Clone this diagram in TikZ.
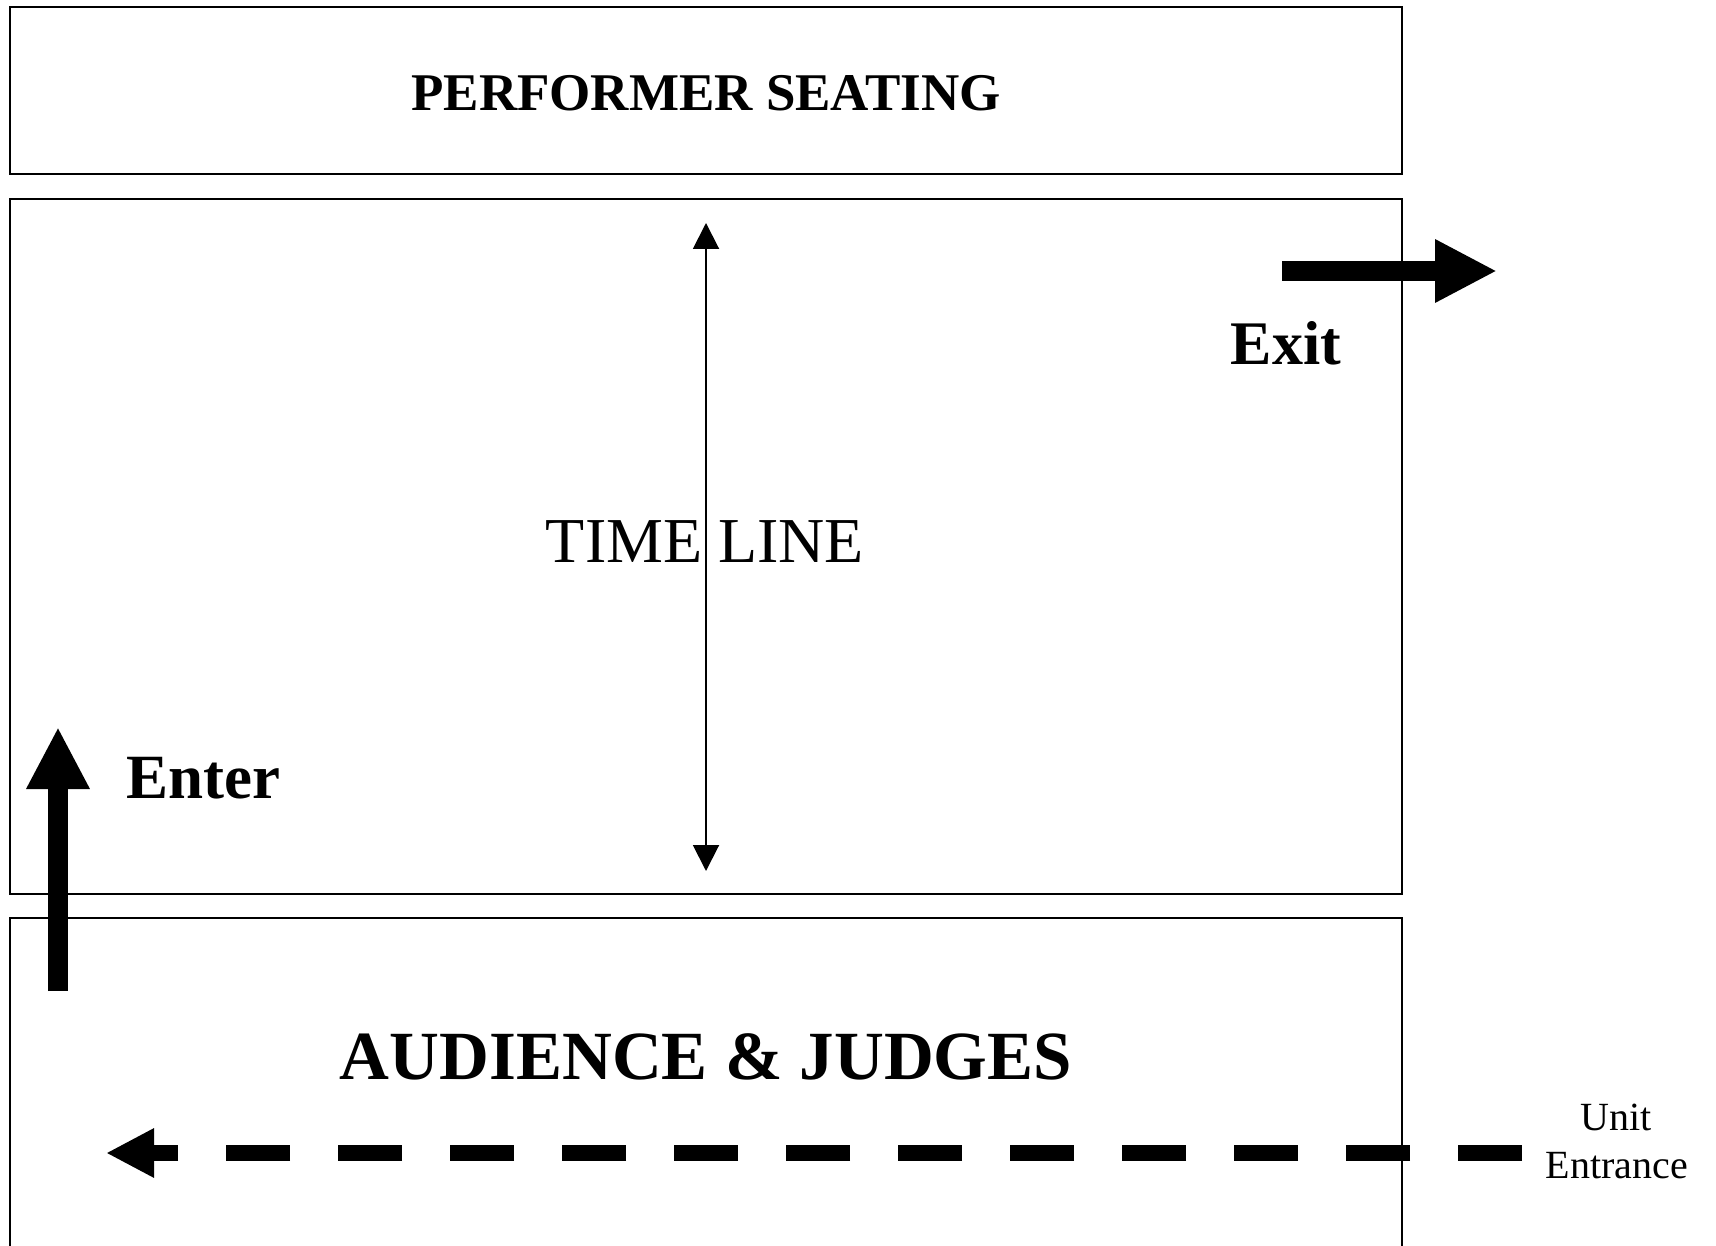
\documentclass[tikz,border=0pt]{standalone}
\usepackage{fontspec}
\setmainfont{Liberation Serif}
\usetikzlibrary{arrows.meta}
\begin{document}
\begin{tikzpicture}[x=1pt,y=-1pt,
  area/.style={draw,line width=2pt,inner sep=0pt,outer sep=0pt,anchor=north west},
  lbl/.style={anchor=base,inner sep=0pt},
  timearrow/.style={line width=2pt,{Triangle[length=26pt,width=26pt]}-{Triangle[length=26pt,width=26pt]}},
  bigarrow/.style={line width=20pt,-{Triangle[length=62pt,width=59pt]}},
  entryarrow/.style={line width=16pt,dash pattern=on 64pt off 48pt,-{Triangle[length=48pt,width=46pt]}}]
\useasboundingbox (0,0) rectangle (1716,1246);
\begin{scope}
\clip (0,0) rectangle (1716,1246);
\node[area,minimum width=1392pt,minimum height=167pt] (seat) at (10,7) {};
\node[area,minimum width=1392pt,minimum height=695pt] (stage) at (10,199) {};
\node[area,minimum width=1392pt,minimum height=400pt] (aud) at (10,918) {};
\end{scope}
\node[lbl,font=\fontsize{53}{60}\selectfont\bfseries] (seatlbl) at (706,111) {PERFORMER SEATING};
\node[lbl,font=\fontsize{64}{70}\selectfont] (timelbl) at (705,562) {TIME LINE};
\node[lbl,font=\fontsize{62}{70}\selectfont\bfseries] (exitlbl) at (1286,365) {Exit};
\node[lbl,font=\fontsize{63}{70}\selectfont\bfseries] (enterlbl) at (203,798) {Enter};
\node[lbl,font=\fontsize{69}{80}\selectfont\bfseries] (audlbl) at (706,1079) {AUDIENCE \& JUDGES};
\node[lbl,font=\fontsize{40}{48}\selectfont] (unitlbl) at (1616,1130) {Unit};
\node[lbl,font=\fontsize{40}{48}\selectfont] (entrlbl) at (1617,1178) {Entrance};
\coordinate (tlbot) at (706,871);
\coordinate (tltop) at (706,223);
\draw[timearrow] (tlbot) -- (tltop);
\coordinate (exA) at (1282,271);
\coordinate (exB) at (1497,271);
\draw[bigarrow] (exA) -- (exB);
\coordinate (enA) at (58,991);
\coordinate (enB) at (58,727);
\draw[bigarrow] (enA) -- (enB);
\coordinate (unA) at (1522,1153);
\coordinate (unB) at (106,1153);
\draw[entryarrow] (unA) -- (unB);
\end{tikzpicture}
\end{document}
